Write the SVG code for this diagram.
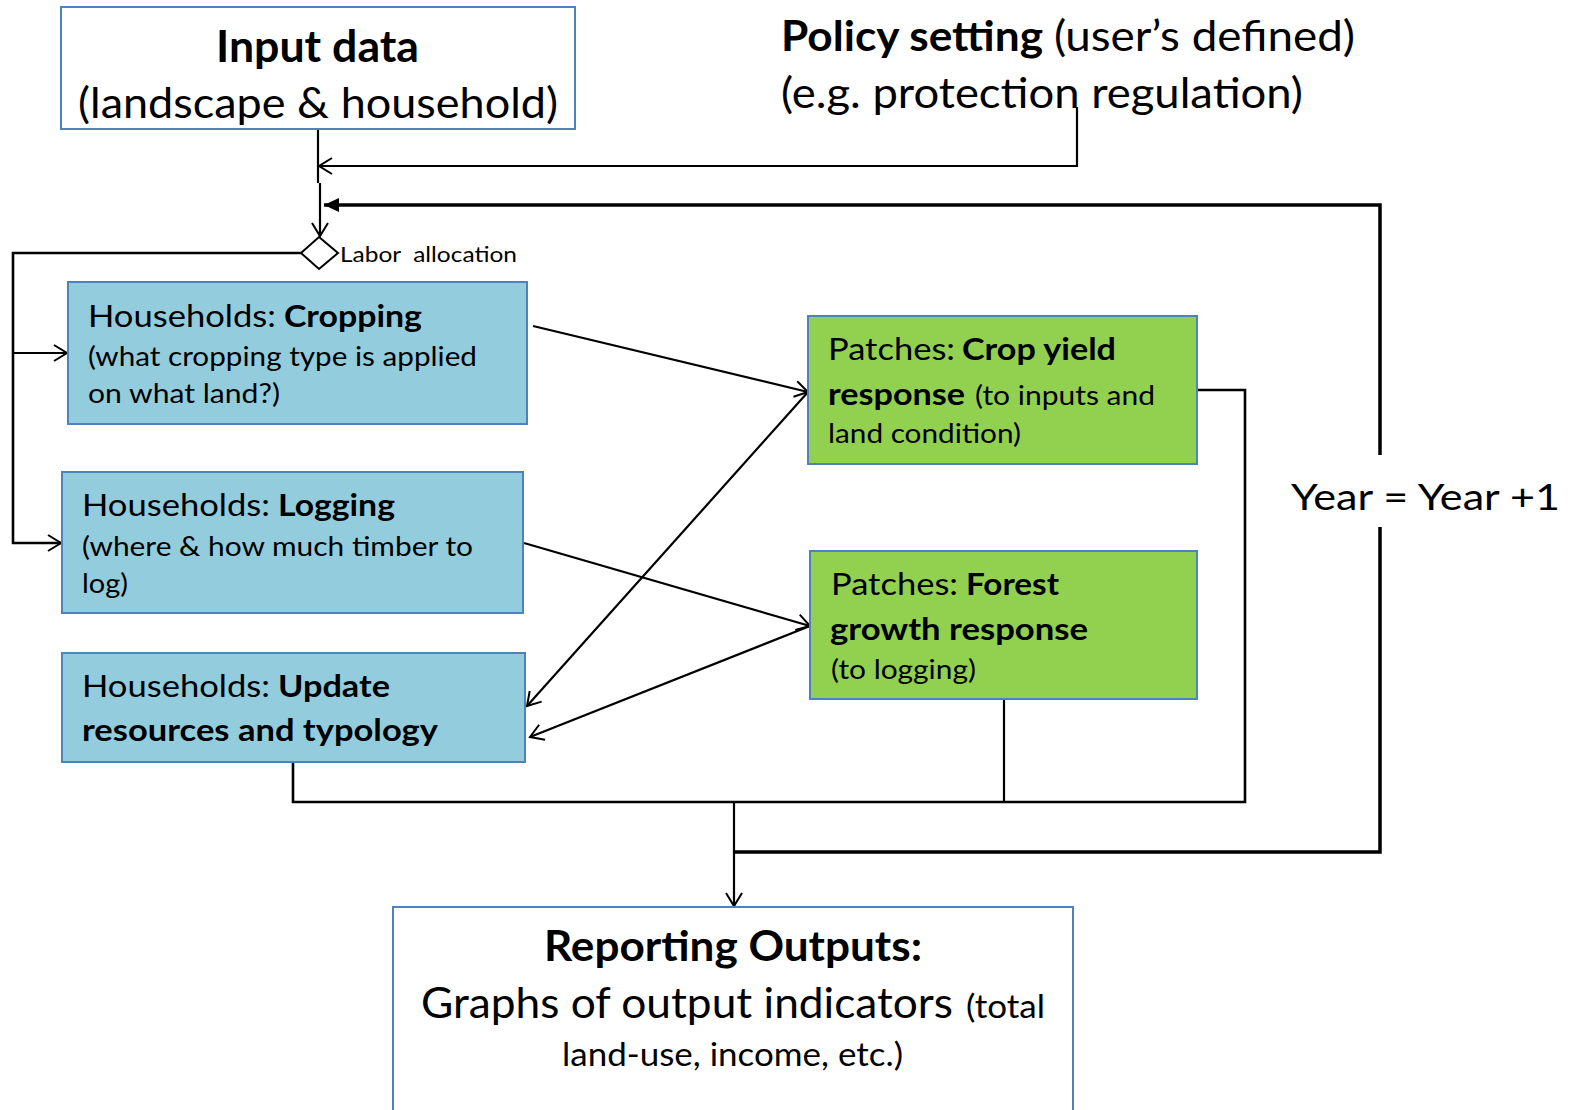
<svg xmlns="http://www.w3.org/2000/svg" width="1571" height="1110" viewBox="0 0 1571 1110">
  <style>
    text { font-family: Lato, "Open Sans", "Liberation Sans", sans-serif; fill: #000; }
    .b { font-weight: bold; }
    .box { stroke: #4f81bd; stroke-width: 2; }
    .plain { fill: #fff; }
    .hh { fill: #93cddd; }
    .patch { fill: #92d050; }
    .ln { fill: none; stroke: #000; stroke-width: 2.2; }
    .mid { fill: none; stroke: #000; stroke-width: 2.6; }
    .thick { fill: none; stroke: #000; stroke-width: 3.5; }
  </style>
  <defs>
    <marker id="open" markerUnits="userSpaceOnUse" markerWidth="20" markerHeight="20" refX="15" refY="10" orient="auto">
      <path d="M2,2 L15,10 L2,18" fill="none" stroke="#000" stroke-width="2"/>
    </marker>
    <marker id="solid" markerUnits="userSpaceOnUse" markerWidth="20" markerHeight="16" refX="15" refY="8" orient="auto">
      <path d="M0,1 L15,8 L0,15 Z" fill="#000"/>
    </marker>
  </defs>

  <!-- connectors -->
  <g id="connectors">
    <!-- input data down to labor allocation -->
    <line class="ln" x1="318" y1="129" x2="318" y2="183"/>
    <line class="ln" x1="320" y1="183" x2="320" y2="236" marker-end="url(#open)"/>
    <!-- policy setting feed -->
    <polyline class="ln" points="1077,107 1077,166 319,166" marker-end="url(#open)"/>
    <!-- yearly loop -->
    <polyline class="thick" points="735,852 1380,852 1380,527"/>
    <polyline class="thick" points="1380,455 1380,205 324,205" marker-end="url(#solid)"/>
    <!-- labor allocation branches -->
    <polyline class="mid" points="301,253 13,253 13,543 61,543" marker-end="url(#open)"/>
    <line class="ln" x1="13" y1="353" x2="67" y2="353" marker-end="url(#open)"/>
    <!-- household to patch links -->
    <line class="ln" x1="533" y1="326" x2="808" y2="392" marker-end="url(#open)"/>
    <line class="ln" x1="524" y1="543" x2="810" y2="626" marker-end="url(#open)"/>
    <line class="ln" x1="808" y1="392" x2="527" y2="706" marker-end="url(#open)"/>
    <line class="ln" x1="810" y1="626" x2="530" y2="737" marker-end="url(#open)"/>
    <!-- collection to reporting -->
    <polyline class="mid" points="1197,390 1245,390 1245,802 293,802 293,762"/>
    <line class="ln" x1="1004" y1="699" x2="1004" y2="802"/>
    <line class="ln" x1="734" y1="802" x2="734" y2="906" marker-end="url(#open)"/>
  </g>

  <g id="input-data">
    <rect class="box plain" x="61" y="7" width="514" height="122"/>
    <text class="b" x="216" y="62" font-size="43" textLength="203" lengthAdjust="spacingAndGlyphs">Input data</text>
    <text x="78" y="118" font-size="43" textLength="480" lengthAdjust="spacingAndGlyphs">(landscape &amp; household)</text>
  </g>

  <g id="policy-setting">
    <text class="b" x="781" y="51" font-size="42" textLength="262" lengthAdjust="spacingAndGlyphs">Policy setting</text>
    <text x="1054" y="51" font-size="42" textLength="301" lengthAdjust="spacingAndGlyphs">(user’s defined)</text>
    <text x="781" y="108" font-size="42" textLength="522" lengthAdjust="spacingAndGlyphs">(e.g. protection regulation)</text>
  </g>

  <g id="labor-allocation">
    <polygon points="319,237 338,253 319,269 301,253" fill="#fff" stroke="#000" stroke-width="2"/>
    <text x="340" y="262" font-size="21" textLength="177" lengthAdjust="spacingAndGlyphs">Labor&#160; allocation</text>
  </g>

  <g id="hh-cropping">
    <rect class="box hh" x="68" y="282" width="459" height="142"/>
    <text x="88" y="327" font-size="31" textLength="188" lengthAdjust="spacingAndGlyphs">Households:</text>
    <text class="b" x="284" y="327" font-size="31" textLength="138" lengthAdjust="spacingAndGlyphs">Cropping</text>
    <text x="88" y="366" font-size="27" textLength="389" lengthAdjust="spacingAndGlyphs">(what cropping type is applied</text>
    <text x="88" y="403" font-size="27" textLength="192" lengthAdjust="spacingAndGlyphs">on what land?)</text>
  </g>

  <g id="hh-logging">
    <rect class="box hh" x="62" y="472" width="461" height="141"/>
    <text x="82" y="516" font-size="31" textLength="188" lengthAdjust="spacingAndGlyphs">Households:</text>
    <text class="b" x="278" y="516" font-size="31" textLength="117" lengthAdjust="spacingAndGlyphs">Logging</text>
    <text x="82" y="556" font-size="27" textLength="391" lengthAdjust="spacingAndGlyphs">(where &amp; how much timber to</text>
    <text x="82" y="593" font-size="27" textLength="46" lengthAdjust="spacingAndGlyphs">log)</text>
  </g>

  <g id="hh-update">
    <rect class="box hh" x="62" y="653" width="463" height="109"/>
    <text x="82" y="697" font-size="31" textLength="188" lengthAdjust="spacingAndGlyphs">Households:</text>
    <text class="b" x="278" y="697" font-size="31" textLength="112" lengthAdjust="spacingAndGlyphs">Update</text>
    <text class="b" x="82" y="741" font-size="31" textLength="356" lengthAdjust="spacingAndGlyphs">resources and typology</text>
  </g>

  <g id="patch-crop-yield">
    <rect class="box patch" x="808" y="316" width="389" height="148"/>
    <text x="828" y="360" font-size="31" textLength="127" lengthAdjust="spacingAndGlyphs">Patches:</text>
    <text class="b" x="962" y="360" font-size="31" textLength="154" lengthAdjust="spacingAndGlyphs">Crop yield</text>
    <text class="b" x="828" y="405" font-size="31" textLength="137" lengthAdjust="spacingAndGlyphs">response</text>
    <text x="975" y="405" font-size="27" textLength="180" lengthAdjust="spacingAndGlyphs">(to inputs and</text>
    <text x="828" y="443" font-size="27" textLength="193" lengthAdjust="spacingAndGlyphs">land condition)</text>
  </g>

  <g id="patch-forest">
    <rect class="box patch" x="810" y="551" width="387" height="148"/>
    <text x="831" y="595" font-size="31" textLength="127" lengthAdjust="spacingAndGlyphs">Patches:</text>
    <text class="b" x="966" y="595" font-size="31" textLength="93" lengthAdjust="spacingAndGlyphs">Forest</text>
    <text class="b" x="830" y="640" font-size="31" textLength="258" lengthAdjust="spacingAndGlyphs">growth response</text>
    <text x="831" y="679" font-size="27" textLength="145" lengthAdjust="spacingAndGlyphs">(to logging)</text>
  </g>

  <g id="year-step">
    <text x="1291" y="510" font-size="37" textLength="269" lengthAdjust="spacingAndGlyphs">Year = Year +1</text>
  </g>

  <g id="reporting-outputs">
    <rect class="box plain" x="393" y="907" width="680" height="230"/>
    <text class="b" x="544" y="961" font-size="42" textLength="378" lengthAdjust="spacingAndGlyphs">Reporting Outputs:</text>
    <text x="421" y="1018" font-size="42" textLength="532" lengthAdjust="spacingAndGlyphs">Graphs of output indicators</text>
    <text x="966" y="1018" font-size="33" textLength="79" lengthAdjust="spacingAndGlyphs">(total</text>
    <text x="562" y="1066" font-size="33" textLength="341" lengthAdjust="spacingAndGlyphs">land-use, income, etc.)</text>
  </g>
</svg>
